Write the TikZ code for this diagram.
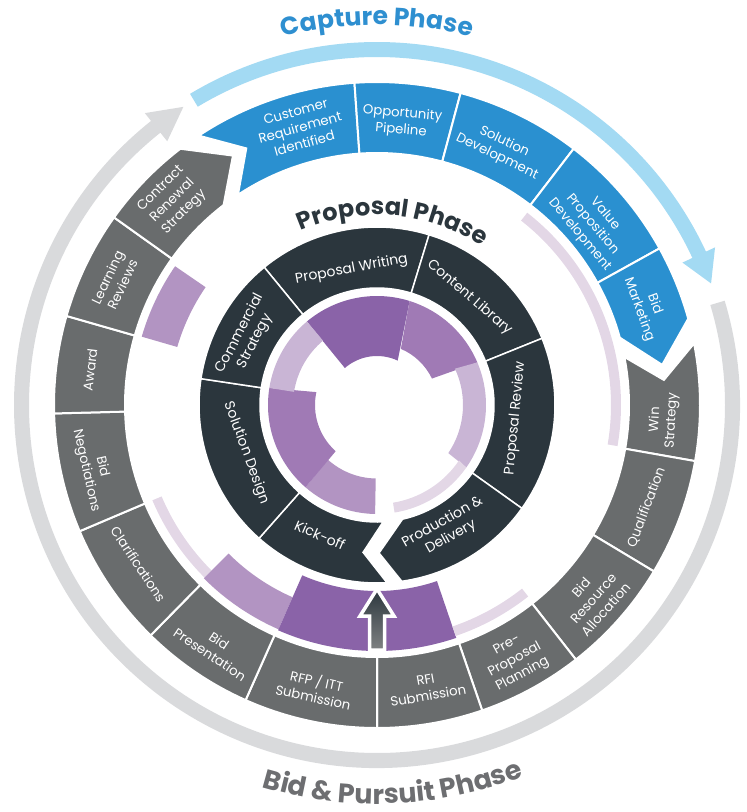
\documentclass[tikz,border=0pt]{standalone}
\usepackage{fontspec}
\setmainfont{Poppins}
\newfontfamily\titlefont{Poppins}
\usetikzlibrary{decorations.text}
\definecolor{blueseg}{HTML}{2A90D0}
\definecolor{grayseg}{HTML}{696C6D}
\definecolor{darkseg}{HTML}{2B363D}
\definecolor{lightblue}{HTML}{A3DAF3}
\definecolor{lightgray}{HTML}{D9DADC}
\definecolor{purA}{HTML}{8A63A8}
\definecolor{purB}{HTML}{A07AB5}
\definecolor{purC}{HTML}{B294C2}
\definecolor{purD}{HTML}{C9B5D5}
\definecolor{purE}{HTML}{E3D7E6}
\definecolor{captext}{HTML}{2E8FD0}
\definecolor{bidtext}{HTML}{6D6E71}
\tikzset{
  lbl/.style={text=white, align=center, font=\fontsize{13.3}{16.5}\selectfont, inner sep=0pt},
  ilbl/.style={text=white, align=center, font=\fontsize{14}{17}\selectfont, inner sep=0pt},
  osep/.style={draw=white, line width=2pt},
  dsep/.style={draw=white, line width=1.5pt},
}
% annular sector: style, a1, a2, rin, rout
\newcommand\annseg[5]{\path[#1] (#2:#5) arc[start angle=#2, end angle=#3, radius=#5] -- (#3:#4) arc[start angle=#3, end angle=#2, radius=#4] -- cycle;}
% skewed sector: style, a1, a2 (outer), b1, b2 (inner), rin, rout
\newcommand\purseg[7]{\path[#1] (#2:#7) arc[start angle=#2, end angle=#3, radius=#7] -- (#5:#6) arc[start angle=#5, end angle=#4, radius=#6] -- cycle;}
\begin{document}
\begin{tikzpicture}[x=1pt,y=1pt]
\useasboundingbox (0,0) rectangle (747,-812);
\begin{scope}[shift={(377,-405)}]
% ---- big phase arrows
\fill[lightblue] (121:363) arc[start angle=121,end angle=25,radius=363] -- (25:373) -- (20:355.5) -- (25:337) -- (25:348) arc[start angle=25,end angle=121,radius=348] -- cycle;
\fill[lightgray] (16.7:363) arc[start angle=16.7,end angle=-231.5,radius=363] -- (-231.5:373) -- (-237:355.5) -- (-231.5:337) -- (-231.5:348) arc[start angle=-231.5,end angle=16.7,radius=348] -- cycle;
% ---- phase titles
\path[decorate, decoration={text along path, text align=center, text color=captext,
  text={|\titlefont\bfseries\fontsize{25}{30}\selectfont|Capture Phase}}]
  (180:380) arc[start angle=180,end angle=0,radius=380];
\path[decorate, decoration={text along path, text align=center, text color=darkseg,
  text={|\titlefont\bfseries\fontsize{24}{30}\selectfont|Proposal Phase}}]
  (175:190) arc[start angle=175,end angle=-5,radius=190];
\path[decorate, decoration={text along path, text align=center, text color=bidtext,
  text={|\titlefont\bfseries\fontsize{27}{30}\selectfont|Bid {\&} Pursuit Phase}}]
  (-177.6:399) arc[start angle=-177.6,end angle=2.4,radius=399];
% ---- outer ring: capture (blue)
\path[fill=blueseg, osep] (123.5:323) arc[start angle=123.5,end angle=94,radius=323] -- (94:252) arc[start angle=94,end angle=123.5,radius=252] -- (117:288) -- cycle;
\annseg{fill=blueseg, osep}{94}{75}{252}{323}
\annseg{fill=blueseg, osep}{75}{52.5}{252}{323}
\annseg{fill=blueseg, osep}{52.5}{29}{252}{323}
\path[fill=blueseg, osep] (29:323) arc[start angle=29,end angle=15.5,radius=323] -- (8:288) -- (15.5:252) arc[start angle=15.5,end angle=29,radius=252] -- cycle;
% ---- outer ring: bid & pursuit (grey)
\path[fill=grayseg, osep] (11:323) arc[start angle=11,end angle=-10,radius=323] -- (-10:252) arc[start angle=-10,end angle=11,radius=252] -- (5:288) -- cycle;
\annseg{fill=grayseg, osep}{-10}{-31}{252}{323}
\annseg{fill=grayseg, osep}{-31}{-52}{252}{323}
\annseg{fill=grayseg, osep}{-52}{-71}{252}{323}
\annseg{fill=grayseg, osep}{-71}{-90}{252}{323}
\annseg{fill=grayseg, osep}{-90}{-114}{252}{323}
\annseg{fill=grayseg, osep}{-114}{-134.5}{252}{323}
\annseg{fill=grayseg, osep}{-134.5}{-157}{252}{323}
\annseg{fill=grayseg, osep}{-157}{-178.5}{252}{323}
\annseg{fill=grayseg, osep}{181.5}{164}{252}{323}
\annseg{fill=grayseg, osep}{164}{144.5}{252}{323}
\path[fill=grayseg, osep] (144.5:323) arc[start angle=144.5,end angle=127.5,radius=323] -- (120:288) -- (127.5:252) arc[start angle=127.5,end angle=144.5,radius=252] -- cycle;
% ---- purple band between rings
\annseg{fill=purC}{145.5}{163.8}{208}{245}
\annseg{fill=purE}{203}{225}{234}{244}
\annseg{fill=purC}{225}{246.3}{210}{245}
\annseg{fill=purA}{246.3}{288.8}{186}{246}
\annseg{fill=purE}{-71.2}{-51.7}{234}{244}
\annseg{fill=purE}{-9.7}{52}{234}{244}
% ---- proposal ring (dark)
\annseg{fill=darkseg, dsep}{129.3}{73}{117}{178}
\annseg{fill=darkseg, dsep}{73}{22}{117}{178}
\annseg{fill=darkseg, dsep}{22}{-35.5}{117}{178}
\path[fill=darkseg, dsep] (-35.5:178) arc[start angle=-35.5,end angle=-82,radius=178] -- (-89.2:148) -- (-77.4:117) arc[start angle=-77.4,end angle=-35.5,radius=117] -- cycle;
\path[fill=darkseg, dsep] (-131.5:178) arc[start angle=-131.5,end angle=-86.8,radius=178] -- (-95.4:148) -- (-87:117) arc[start angle=-87,end angle=-131.5,radius=117] -- cycle;
\annseg{fill=darkseg, dsep}{171.5}{228.5}{117}{178}
\annseg{fill=darkseg, dsep}{129.3}{171.5}{117}{178}
% ---- inner purple chart
\purseg{fill=purB}{72.6}{23}{67}{25.7}{61}{109}
\purseg{fill=purA}{130}{72.6}{131}{65}{49}{109}
\purseg{fill=purD}{23}{-35}{25}{-34}{86}{109}
\purseg{fill=purE}{-35}{-80.7}{-34}{-80.7}{99}{109}
\purseg{fill=purC}{-91}{-131}{-91}{-132}{73.5}{109}
\purseg{fill=purB}{-131}{-189}{-131.8}{-192}{62}{109}
\purseg{fill=purD}{171}{130}{171}{130}{84}{109}
% ---- central arrow
\draw[white, line width=3.5pt, line join=miter, top color=darkseg, bottom color=grayseg!85!white]
  (0,-184) -- (17,-211) -- (7.5,-211) -- (7.5,-245) -- (-7.5,-245) -- (-7.5,-211) -- (-17,-211) -- cycle;
% ---- outer labels
\node[lbl, rotate=15.5] (cri) at (105.5:288) {Customer\\Requirement\\Identified};
\node[lbl, rotate=-5] (opp) at (85:284) {Opportunity\\Pipeline};
\node[lbl, rotate=-25.8] (sol) at (64.2:284) {Solution\\Development};
\node[lbl, rotate=-50] (val) at (40:281) {Value\\Proposition\\Development};
\node[lbl, rotate=-70] (bmk) at (20:287) {Bid\\Marketing};
\node[lbl, rotate=87] (win) at (-3:287) {Win\\Strategy};
\node[lbl, rotate=69.2] (qual) at (-20.8:288) {Qualification};
\node[lbl, rotate=48.2] (bra) at (-41.8:290) {Bid\\Resource\\Allocation};
\node[lbl, rotate=28.4] (ppp) at (-61.6:290) {Pre-\\Proposal\\Planning};
\node[lbl, rotate=10] (rfi) at (-80:287) {RFI\\Submission};
\node[lbl, rotate=-12.3] (rfp) at (-102.3:290) {RFP / ITT\\Submission};
\node[lbl, rotate=-33.8] (bpr) at (-123.8:292) {Bid\\Presentation};
\node[lbl, rotate=-56.3] (cla) at (-146.3:287) {Clarifications};
\node[lbl, rotate=-77.3] (bng) at (-167.3:290) {Bid\\Negotiations};
\node[lbl, rotate=83] (awd) at (173:289) {Award};
\node[lbl, rotate=64.7] (lrv) at (154.7:290) {Learning\\Reviews};
\node[lbl, rotate=45] (crs) at (135:289) {Contract\\Renewal\\Strategy};
% ---- inner labels
\node[ilbl, rotate=10.6] (pw) at (100.6:138) {Proposal Writing};
\node[ilbl, rotate=-40.7] (cl) at (49.3:142) {Content Library};
\node[ilbl, rotate=84.5] (pr) at (-5.5:139) {Proposal Review};
\node[ilbl, rotate=29.2] (pd) at (-60.8:143) {Production \&\\Delivery};
\node[ilbl, rotate=-23.7] (ko) at (-113.7:142) {Kick-off};
\node[ilbl, rotate=-69.7] (sd) at (-159.7:139) {Solution Design};
\node[ilbl, rotate=62.4] (cs) at (152.4:146) {Commercial\\Strategy};
\end{scope}
\end{tikzpicture}
\end{document}
